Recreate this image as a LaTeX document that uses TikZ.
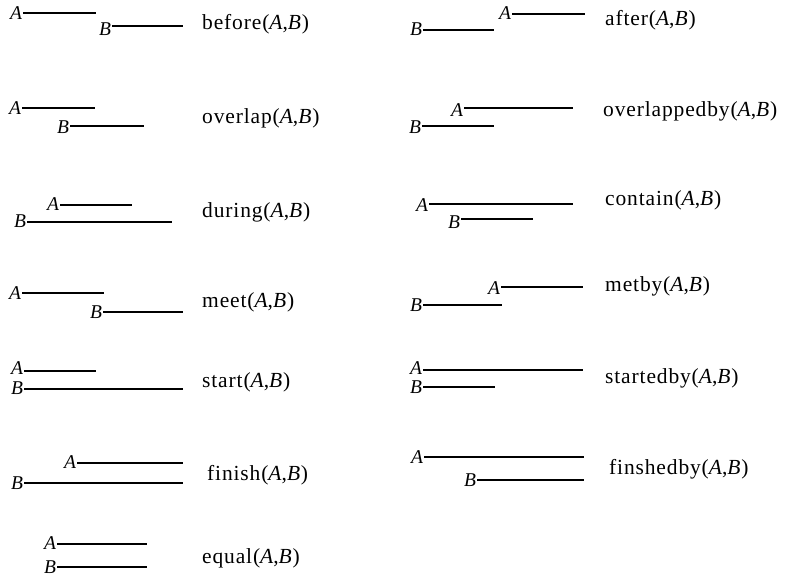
\documentclass[tikz,border=0pt]{standalone}
\usepackage{fontspec}
\setmainfont{Liberation Serif}
\newfontfamily\relfont{Liberation Serif}[LetterSpace=4]
\usetikzlibrary{positioning}

\begin{document}
\begin{tikzpicture}[
  x=1pt, y=-1pt,
  lbl/.style={font=\fontsize{19.5}{22}\selectfont\itshape, inner sep=0pt, outer sep=1.5pt},
  rel/.style={font=\relfont\fontsize{21.5}{24}\selectfont, anchor=west, inner sep=0pt},
  seg/.style={line width=1.6pt}
]
\useasboundingbox (0,0) rectangle (786,577);

% left column
\node[lbl] (beforeA) at (16,13) {A};   \coordinate (beforeAe) at (96,13);
\node[lbl] (beforeB) at (105,29) {B};  \coordinate (beforeBe) at (183,26);
\draw[seg] (beforeA.east |- beforeAe) -- (beforeAe);
\draw[seg] (beforeB.east |- beforeBe) -- (beforeBe);
\node[rel] (before) at (202,24) {before(\textit{A},\textit{B})};

\node[lbl] (overlapA) at (15,108) {A};  \coordinate (overlapAe) at (95,108);
\node[lbl] (overlapB) at (63,127) {B};  \coordinate (overlapBe) at (144,126);
\draw[seg] (overlapA.east |- overlapAe) -- (overlapAe);
\draw[seg] (overlapB.east |- overlapBe) -- (overlapBe);
\node[rel] (overlap) at (202,118) {overlap(\textit{A},\textit{B})};

\node[lbl] (duringA) at (53,204) {A};  \coordinate (duringAe) at (132,205);
\node[lbl] (duringB) at (20,221) {B};  \coordinate (duringBe) at (172,222);
\draw[seg] (duringA.east |- duringAe) -- (duringAe);
\draw[seg] (duringB.east |- duringBe) -- (duringBe);
\node[rel] (during) at (202,212) {during(\textit{A},\textit{B})};

\node[lbl] (meetA) at (15,293) {A};  \coordinate (meetAe) at (104,293);
\node[lbl] (meetB) at (96,312) {B};  \coordinate (meetBe) at (183,312);
\draw[seg] (meetA.east |- meetAe) -- (meetAe);
\draw[seg] (meetB.east |- meetBe) -- (meetBe);
\node[rel] (meet) at (202,302) {meet(\textit{A},\textit{B})};

\node[lbl] (startA) at (17,368) {A};  \coordinate (startAe) at (96,371);
\node[lbl] (startB) at (17,388) {B};  \coordinate (startBe) at (183,389);
\draw[seg] (startA.east |- startAe) -- (startAe);
\draw[seg] (startB.east |- startBe) -- (startBe);
\node[rel] (start) at (202,382) {start(\textit{A},\textit{B})};

\node[lbl] (finishA) at (70,462) {A};  \coordinate (finishAe) at (183,463);
\node[lbl] (finishB) at (17,483) {B};  \coordinate (finishBe) at (183,483);
\draw[seg] (finishA.east |- finishAe) -- (finishAe);
\draw[seg] (finishB.east |- finishBe) -- (finishBe);
\node[rel] (finish) at (207,475) {finish(\textit{A},\textit{B})};

\node[lbl] (equalA) at (50,543) {A};  \coordinate (equalAe) at (147,544);
\node[lbl] (equalB) at (50,567) {B};  \coordinate (equalBe) at (147,567);
\draw[seg] (equalA.east |- equalAe) -- (equalAe);
\draw[seg] (equalB.east |- equalBe) -- (equalBe);
\node[rel] (equal) at (202,558) {equal(\textit{A},\textit{B})};

% right column
\node[lbl] (afterB) at (416,29) {B};  \coordinate (afterBe) at (494,30);
\node[lbl] (afterA) at (505,13) {A};  \coordinate (afterAe) at (585,14);
\draw[seg] (afterB.east |- afterBe) -- (afterBe);
\draw[seg] (afterA.east |- afterAe) -- (afterAe);
\node[rel] (after) at (605,20) {after(\textit{A},\textit{B})};

\node[lbl] (obyA) at (457,110) {A};  \coordinate (obyAe) at (573,108);
\node[lbl] (obyB) at (415,127) {B};  \coordinate (obyBe) at (494,126);
\draw[seg] (obyA.east |- obyAe) -- (obyAe);
\draw[seg] (obyB.east |- obyBe) -- (obyBe);
\node[rel] (oby) at (603,111) {overlappedby(\textit{A},\textit{B})};

\node[lbl] (containA) at (422,205) {A};  \coordinate (containAe) at (573,204);
\node[lbl] (containB) at (454,222) {B};  \coordinate (containBe) at (533,219);
\draw[seg] (containA.east |- containAe) -- (containAe);
\draw[seg] (containB.east |- containBe) -- (containBe);
\node[rel] (contain) at (605,200) {contain(\textit{A},\textit{B})};

\node[lbl] (metbyA) at (494,288) {A};  \coordinate (metbyAe) at (583,287);
\node[lbl] (metbyB) at (416,305) {B};  \coordinate (metbyBe) at (502,305);
\draw[seg] (metbyA.east |- metbyAe) -- (metbyAe);
\draw[seg] (metbyB.east |- metbyBe) -- (metbyBe);
\node[rel] (metby) at (605,286) {metby(\textit{A},\textit{B})};

\node[lbl] (sbyA) at (416,368) {A};  \coordinate (sbyAe) at (583,370);
\node[lbl] (sbyB) at (416,387) {B};  \coordinate (sbyBe) at (495,387);
\draw[seg] (sbyA.east |- sbyAe) -- (sbyAe);
\draw[seg] (sbyB.east |- sbyBe) -- (sbyBe);
\node[rel] (sby) at (605,378) {startedby(\textit{A},\textit{B})};

\node[lbl] (fbyA) at (417,457) {A};  \coordinate (fbyAe) at (584,457);
\node[lbl] (fbyB) at (470,480) {B};  \coordinate (fbyBe) at (584,480);
\draw[seg] (fbyA.east |- fbyAe) -- (fbyAe);
\draw[seg] (fbyB.east |- fbyBe) -- (fbyBe);
\node[rel] (fby) at (609,469) {finshedby(\textit{A},\textit{B})};
\end{tikzpicture}
\end{document}
